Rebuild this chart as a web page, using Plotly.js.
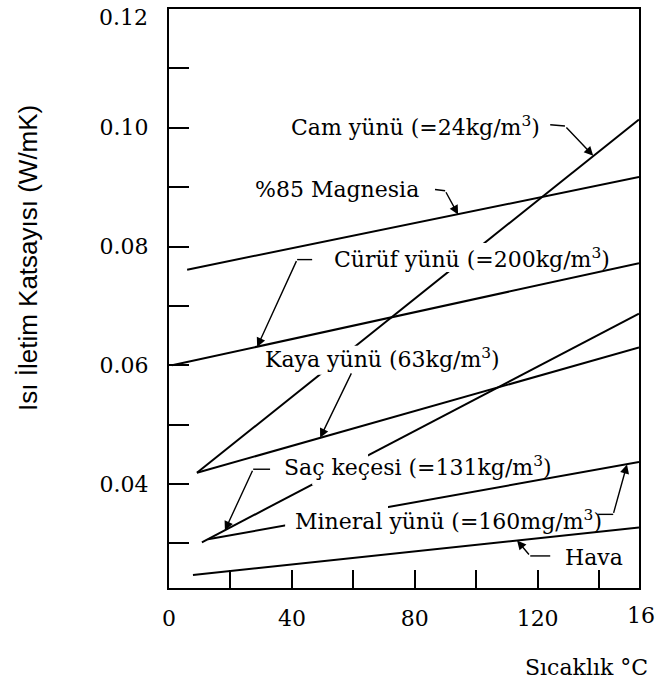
<!DOCTYPE html>
<html>
<head>
<meta charset="utf-8">
<script src="https://cdn.plot.ly/plotly-3.0.1.min.js"></script>
<style>
  html, body { margin: 0; padding: 0; background: #fff; }
  #chart { width: 656px; height: 687px; }
</style>
</head>
<body>
<div id="chart"></div>
<script>
// ---- data ----
const seriesNames = ['Cam yünü', '%85 Magnesia', 'Cürüf yünü', 'Kaya yünü', 'Saç keçesi', 'Mineral yünü', 'Hava'];
const camX = [9.1, 153];     const camY = [0.0419, 0.1014];
const magX = [5.9, 153];     const magY = [0.0761, 0.0917];
const curufX = [1, 153];     const curufY = [0.0600, 0.0772];
const kayaX = [9.1, 153];    const kayaY = [0.0419, 0.0630];
const sacX = [10.7, 153];    const sacY = [0.0302, 0.0687];
const minX = [12.7, 153];    const minY = [0.0307, 0.0437];
const havaX = [7.8, 153];    const havaY = [0.0247, 0.0327];

const xTickVals = [0, 40, 80, 120];
const xTickText = ['0', '40', '80', '120'];
const yTickVals = [0.04, 0.06, 0.08, 0.10];
const yTickText = ['0.04', '0.06', '0.08', '0.10'];

const labelTexts = [
  'Cam yünü (=24kg/m<sup>3</sup>)',
  '%85 Magnesia',
  'Cürüf yünü (=200kg/m<sup>3</sup>)',
  'Kaya yünü (63kg/m<sup>3</sup>)',
  'Saç keçesi (=131kg/m<sup>3</sup>)',
  'Mineral yünü (=160mg/m<sup>3</sup>)',
  'Hava'
];

const xTitle = 'Sıcaklık °C';
const yTitle = 'Isı İletim Katsayısı (W/mK)';

// ---- build ----
const serif = 'DejaVu Serif, serif';
const lineStyle = { color: '#000', width: 2 };
const xs = [camX, magX, curufX, kayaX, sacX, minX, havaX];
const ys = [camY, magY, curufY, kayaY, sacY, minY, havaY];
const traces = xs.map((x, i) => ({
  x: x, y: ys[i], mode: 'lines', name: seriesNames[i],
  line: lineStyle, hoverinfo: 'skip', showlegend: false
}));

// label placement (data coords) and anchors
const labelPos = [
  { x: 121.5, y: 0.1003, xa: 'right' },
  { x: 82.1,  y: 0.0896, xa: 'right' },
  { x: 53.1,  y: 0.0781, xa: 'left' },
  { x: 30.6,  y: 0.0612, xa: 'left' },
  { x: 36.8,  y: 0.0430, xa: 'left' },
  { x: 40.4,  y: 0.0339, xa: 'left' },
  { x: 128.3, y: 0.0277, xa: 'left' }
];
const annotations = labelTexts.map((t, i) => ({
  x: labelPos[i].x, y: labelPos[i].y, xref: 'x', yref: 'y',
  text: t, showarrow: false, xanchor: labelPos[i].xa, yanchor: 'middle',
  font: { family: serif, size: 22, color: '#000' }
}));

// arrows: head (x,y) <- tail (ax,ay)
const arrows = [
  { x: 138.1, y: 0.0953, ax: 128.9, ay: 0.1003 },
  { x: 94.1,  y: 0.0854, ax: 89.9,  ay: 0.0894 },
  { x: 28.7,  y: 0.0631, ax: 41.7,  ay: 0.0778 },
  { x: 49.2,  y: 0.0478, ax: 59.6,  ay: 0.0589 },
  { x: 18.2,  y: 0.0322, ax: 27.4,  ay: 0.0425 },
  { x: 149.1, y: 0.0433, ax: 144.6, ay: 0.0349 },
  { x: 113.3, y: 0.0305, ax: 117.6, ay: 0.0279 }
];
arrows.forEach(a => annotations.push({
  x: a.x, y: a.y, ax: a.ax, ay: a.ay, xref: 'x', yref: 'y', axref: 'x', ayref: 'y',
  text: '', showarrow: true, arrowhead: 2, arrowsize: 1.3, arrowwidth: 1.4,
  arrowcolor: '#000', standoff: 0, startstandoff: 0
}));

// short horizontal leader stubs
const stubs = [
  [124.1, 0.1005, 128.9, 0.1003],
  [86.6, 0.0896, 89.9, 0.0894],
  [46.6, 0.0778, 41.7, 0.0778],
  [32.9, 0.0425, 27.4, 0.0425],
  [139.7, 0.0349, 144.6, 0.0349],
  [124.1, 0.0279, 117.6, 0.0279]
];
const shapes = stubs.map(s => ({
  type: 'line', xref: 'x', yref: 'y', x0: s[0], y0: s[1], x1: s[2], y1: s[3],
  line: { color: '#000', width: 1.4 }, layer: 'above'
}));
// white gaps behind labels where lines pass under the text
const gaps = [
  [88.2, 0.0757, 105.2, 0.0806],
  [46.6, 0.0584, 61.5, 0.0633],
  [46.6, 0.0398, 64.8, 0.0454],
  [37.8, 0.0322, 71.3, 0.0365]
];
gaps.forEach(g => shapes.push({
  type: 'rect', xref: 'x', yref: 'y', x0: g[0], y0: g[1], x1: g[2], y1: g[3],
  fillcolor: '#fff', line: { width: 0 }, layer: 'above'
}));

// extra text: top y label, cut-off 160 label, axis titles
annotations.push({
  xref: 'paper', yref: 'paper', x: -0.04, y: 0.986, xanchor: 'right', yanchor: 'middle',
  text: '0.12', showarrow: false, font: { family: serif, size: 22, color: '#000' }
});
annotations.push({
  xref: 'paper', yref: 'paper', x: 0.970, y: -0.047, xanchor: 'left', yanchor: 'middle',
  text: '160', showarrow: false, font: { family: serif, size: 22, color: '#000' }
});
annotations.push({
  xref: 'paper', yref: 'paper', x: 1.0234, y: -0.138, xanchor: 'right', yanchor: 'middle',
  text: xTitle, showarrow: false, font: { family: serif, size: 22, color: '#000' }
});
annotations.push({
  xref: 'paper', yref: 'paper', x: -0.30, y: 0.570, xanchor: 'center', yanchor: 'middle',
  text: yTitle, textangle: -90, showarrow: false,
  font: { family: 'Liberation Sans, Arial, sans-serif', size: 26, color: '#000' }
});

const layout = {
  width: 656, height: 687,
  margin: { l: 169, r: 17, t: 9, b: 99 },
  paper_bgcolor: '#fff', plot_bgcolor: '#fff',
  showlegend: false,
  xaxis: {
    range: [0, 153], showgrid: false, zeroline: false,
    showline: true, linecolor: '#000', linewidth: 2, mirror: true,
    ticks: 'inside', ticklen: 18, tickwidth: 2, tickcolor: '#000',
    tickmode: 'array', tickvals: xTickVals, ticktext: xTickText,
    minor: { tick0: 0, dtick: 20, ticks: 'inside', ticklen: 18, tickwidth: 2, tickcolor: '#000', showgrid: false },
    ticklabelstandoff: 10,
    tickfont: { family: serif, size: 22, color: '#000' }
  },
  yaxis: {
    range: [0.0225, 0.12], showgrid: false, zeroline: false,
    showline: true, linecolor: '#000', linewidth: 2, mirror: true,
    ticks: 'inside', ticklen: 20, tickwidth: 2, tickcolor: '#000',
    tickmode: 'array', tickvals: yTickVals, ticktext: yTickText,
    minor: { tick0: 0, dtick: 0.01, ticks: 'inside', ticklen: 20, tickwidth: 2, tickcolor: '#000', showgrid: false },
    ticklabelstandoff: 14,
    tickfont: { family: serif, size: 22, color: '#000' }
  },
  annotations: annotations,
  shapes: shapes
};

Plotly.newPlot('chart', traces, layout, { displayModeBar: false, staticPlot: true });
</script>
</body>
</html>
